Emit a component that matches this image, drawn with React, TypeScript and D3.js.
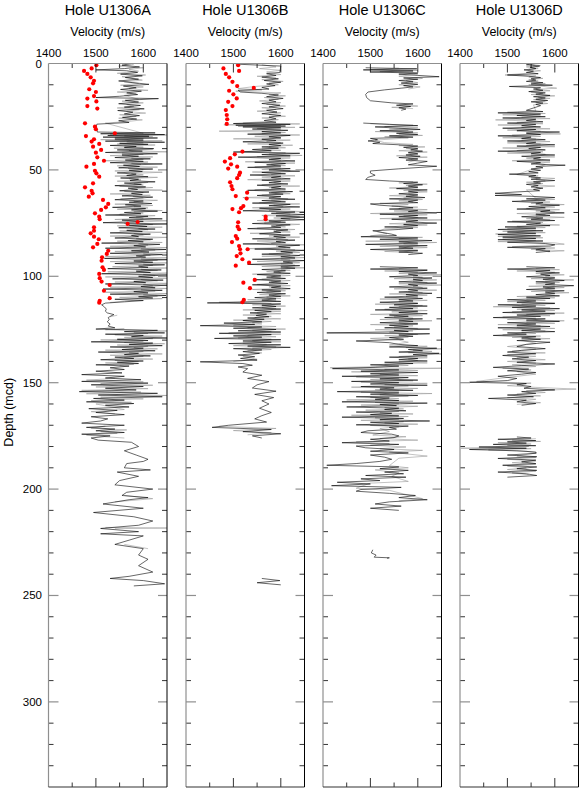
import * as d3 from "d3";

type Pt = [number, number]; // [depth (mcd), velocity (m/s)]

const holeNames = ["Hole U1306A", "Hole U1306B", "Hole U1306C", "Hole U1306D"];
const velocityLabels = [1400, 1500, 1600];
const velocityMinor = [1450, 1550];
const depthLabels = [0, 50, 100, 150, 200, 250, 300];

// Hole A
const aBlack: Pt[] = [
  [0, 1575], [0.8, 1555], [1.6, 1592], [2.4, 1560], [3, 1500], [3.4, 1565], [4.2, 1588], [5, 1552], [5.8, 1598], [6.6, 1562],
  [7.4, 1590], [8.2, 1548], [9, 1578], [9.8, 1612], [10.6, 1558], [11.4, 1585], [12.2, 1552], [13, 1596], [13.8, 1565], [14.6, 1588],
  [15.4, 1550], [16, 1500], [16.5, 1632], [17.3, 1562], [18.1, 1590], [18.9, 1548], [19.7, 1594], [20.5, 1560], [21.3, 1602], [22.1, 1546],
  [22.9, 1578], [23.7, 1560], [24.5, 1592], [25.3, 1556], [26.1, 1586], [26.9, 1548], [27.7, 1570], [28.5, 1502], [29.5, 1501], [31, 1502],
  [32.2, 1503], [32.6, 1625], [33, 1510], [33.4, 1645], [33.8, 1525], [34.2, 1612], [34.6, 1515], [35, 1630], [35.5, 1540], [36, 1600],
  [36.5, 1520], [37, 1645], [37.5, 1550], [38, 1610], [38.5, 1530], [39, 1585], [39.5, 1560], [40, 1622], [40.6, 1545], [41.2, 1598],
  [41.8, 1520], [42.4, 1630], [43, 1555], [43.6, 1590], [44.2, 1540], [44.8, 1615], [45.4, 1562], [46, 1600], [46.6, 1530], [47.2, 1640],
  [47.8, 1558], [48.4, 1592], [49, 1548], [49.6, 1620], [50.2, 1570], [50.8, 1598], [51.4, 1545], [52, 1585], [52.6, 1565], [53.2, 1610],
  [53.8, 1552], [54.4, 1590], [55, 1572], [55.6, 1625], [56.2, 1560], [56.8, 1596], [57.4, 1540], [58, 1605], [58.6, 1568], [59.2, 1588],
  [59.8, 1550], [60.4, 1612], [61, 1575], [61.6, 1598], [62.2, 1555], [62.8, 1620], [63.4, 1580], [64, 1540], [64.6, 1600], [65.2, 1570],
  [65.8, 1618], [66.4, 1562], [67, 1595], [67.6, 1535], [68.2, 1605], [68.8, 1575], [69.4, 1630], [70, 1560], [70.6, 1595], [71.2, 1520],
  [71.8, 1610], [72.4, 1570], [73, 1640], [73.6, 1555], [74.2, 1600], [74.8, 1515], [75.4, 1650], [76, 1570], [76.6, 1608], [77.2, 1548],
  [77.8, 1625], [78.4, 1565], [79, 1598], [79.6, 1530], [80.2, 1615], [80.8, 1575], [81.4, 1590], [82, 1540], [82.6, 1620], [83.2, 1568],
  [83.8, 1600], [84.4, 1512], [85, 1635], [85.6, 1580], [86.2, 1605], [86.8, 1520], [87.4, 1648], [88, 1575], [88.6, 1612], [89.2, 1530],
  [89.8, 1640], [90.4, 1585], [91, 1605], [91.6, 1518], [92.2, 1650], [92.8, 1580], [93.4, 1620], [94, 1540], [94.6, 1645], [95.2, 1590],
  [95.8, 1610], [96.4, 1525], [97, 1638], [97.6, 1585], [98.2, 1615], [98.8, 1512], [99.4, 1650], [100, 1590], [100.6, 1620], [101.2, 1535],
  [101.8, 1642], [102.4, 1580], [103, 1605], [103.6, 1520], [104.2, 1650], [104.8, 1595], [105.4, 1625], [106, 1515], [106.6, 1640], [107.2, 1580],
  [107.8, 1610], [108.4, 1530], [109, 1648], [109.6, 1590], [110.2, 1620], [110.8, 1540], [111.4, 1600], [112, 1560], [112.6, 1520], [113.4, 1512],
  [114.4, 1518], [115.4, 1522], [116.4, 1520], [117.2, 1524], [118, 1538], [118.6, 1532], [119.4, 1526], [120.4, 1528], [121.4, 1524], [122.4, 1530],
  [123.4, 1526], [124.2, 1540], [124.8, 1500], [125.4, 1630], [126, 1560], [126.6, 1645], [127.2, 1520], [127.8, 1600], [128.4, 1575], [129, 1650],
  [129.6, 1545], [130.2, 1610], [130.8, 1490], [131.4, 1620], [132, 1570], [132.6, 1640], [133.2, 1530], [133.8, 1600], [134.4, 1555], [135, 1625],
  [135.6, 1505], [136.2, 1590], [136.8, 1560], [137.4, 1615], [138, 1540], [138.6, 1580], [139.2, 1510], [139.8, 1600], [140.4, 1545], [141, 1590],
  [141.6, 1500], [142.2, 1570], [143, 1530], [143.8, 1560], [144.6, 1500], [145.4, 1555], [146.2, 1470], [147, 1560], [147.8, 1520], [148.6, 1595],
  [149.4, 1470], [150.2, 1610], [151, 1490], [151.8, 1600], [152.6, 1520], [153.4, 1585], [154.2, 1465], [155, 1630], [155.8, 1505], [156.6, 1640],
  [157.4, 1495], [158.2, 1560], [159, 1480], [159.8, 1580], [160.6, 1520], [161.4, 1570], [162.2, 1485], [163, 1545], [164, 1500], [165, 1560],
  [166, 1490], [167, 1525], [168, 1510], [169, 1470], [170, 1560], [171, 1480], [171.8, 1540], [172.6, 1500], [173.4, 1560], [174.2, 1470],
  [175, 1530], [176, 1490], [177, 1505], [178, 1575], [180, 1590], [182, 1560], [184, 1585], [186, 1610], [187, 1600], [188, 1565],
  [190, 1560], [191, 1615], [192, 1545], [194, 1590], [196, 1550], [198, 1540], [200, 1620], [201.5, 1565], [203, 1555], [204, 1610],
  [205, 1570], [207, 1515], [209, 1600], [211, 1495], [213, 1580], [215, 1620], [217, 1590], [218.5, 1510], [220, 1590], [221, 1510],
  [222, 1600], [224, 1570], [226, 1540], [228, 1600], [231, 1590], [233, 1610], [236, 1590], [239, 1620], [241, 1570], [242, 1530],
  [243, 1600], [244.5, 1645], [245.5, 1580],
];

const aGray: Pt[] = [
  [0.4, 1580], [1.2, 1548], [2, 1600], [2.8, 1570], [3.6, 1590], [4.6, 1545], [5.4, 1605], [6.2, 1555], [7, 1580], [7.8, 1598],
  [8.6, 1560], [9.4, 1590], [10.2, 1552], [11, 1600], [11.8, 1570], [12.6, 1610], [13.4, 1545], [14.2, 1585], [15, 1560], [16.8, 1590],
  [17.7, 1555], [18.5, 1600], [19.3, 1565], [20.1, 1580], [20.9, 1545], [21.7, 1592], [22.5, 1565], [23.3, 1605], [24.1, 1550], [24.9, 1585],
  [25.7, 1548], [26.5, 1598], [27.3, 1565], [28, 1520], [32.8, 1600], [33.2, 1530], [33.6, 1650], [34, 1560], [34.4, 1620], [34.8, 1540],
  [35.3, 1600], [35.8, 1510], [36.3, 1640], [36.8, 1565], [37.3, 1600], [37.8, 1545], [38.3, 1625], [38.8, 1560], [39.3, 1600], [39.8, 1538],
  [40.3, 1620], [40.9, 1570], [41.5, 1650], [42.1, 1555], [42.7, 1600], [43.3, 1530], [43.9, 1620], [44.5, 1575], [45.1, 1600], [45.7, 1520],
  [46.3, 1610], [46.9, 1575], [47.5, 1595], [48.1, 1545], [48.7, 1630], [49.3, 1568], [49.9, 1600], [50.5, 1540], [51.1, 1640], [51.7, 1575],
  [52.3, 1600], [52.9, 1540], [53.5, 1630], [54.1, 1570], [54.7, 1595], [55.3, 1545], [55.9, 1610], [56.5, 1580], [57.1, 1600], [57.7, 1550],
  [58.3, 1620], [58.9, 1575], [59.5, 1640], [60.1, 1560], [60.7, 1600], [61.3, 1530], [61.9, 1615], [62.5, 1578], [63.1, 1600], [63.7, 1552],
  [64.3, 1630], [64.9, 1580], [65.5, 1600], [66.1, 1540], [66.7, 1620], [67.3, 1580], [67.9, 1610], [68.5, 1545], [69.1, 1640], [69.7, 1580],
  [70.3, 1600], [70.9, 1550], [71.5, 1625], [72.1, 1585], [72.7, 1600], [73.3, 1540], [73.9, 1650], [74.5, 1590], [75.1, 1560], [75.7, 1620],
  [76.3, 1545], [76.9, 1640], [77.5, 1590], [78.1, 1610], [78.7, 1550], [79.3, 1640], [79.9, 1580], [80.5, 1600], [81.1, 1530], [81.7, 1650],
  [82.3, 1585], [82.9, 1615], [83.5, 1545], [84.1, 1640], [84.7, 1590], [85.3, 1610], [85.9, 1530], [86.5, 1650], [87.1, 1595], [87.7, 1625],
  [88.3, 1540], [88.9, 1650], [89.5, 1600], [90.1, 1615], [90.7, 1520], [91.3, 1650], [91.9, 1595], [92.5, 1630], [93.1, 1530], [93.7, 1650],
  [94.3, 1600], [94.9, 1620], [95.5, 1535], [96.1, 1650], [96.7, 1595], [97.3, 1630], [97.9, 1525], [98.5, 1650], [99.1, 1600], [99.7, 1625],
  [100.3, 1520], [100.9, 1650], [101.5, 1595], [102.1, 1630], [102.7, 1540], [103.3, 1650], [103.9, 1600], [104.5, 1620], [105.1, 1530], [105.7, 1650],
  [106.3, 1595], [106.9, 1625], [107.5, 1520], [108.1, 1650], [108.7, 1600], [109.3, 1630], [109.9, 1550], [110.5, 1640], [111.1, 1590], [111.7, 1560],
  [112.3, 1530], [118.3, 1545], [119, 1530], [124.5, 1560], [125.1, 1520], [125.7, 1650], [126.3, 1580], [126.9, 1610], [127.5, 1540], [128.1, 1640],
  [128.7, 1560], [129.3, 1620], [129.9, 1510], [130.5, 1600], [131.1, 1560], [131.7, 1645], [132.3, 1545], [132.9, 1610], [133.5, 1580], [134.1, 1630],
  [134.7, 1520], [135.3, 1600], [135.9, 1570], [136.5, 1640], [137.1, 1530], [137.7, 1600], [138.3, 1560], [138.9, 1620], [139.5, 1540], [140.1, 1590],
  [140.7, 1520], [141.3, 1580], [141.9, 1550], [148, 1540], [148.8, 1480], [149.6, 1600], [150.4, 1510], [151.2, 1620], [152, 1500], [152.8, 1610],
  [153.6, 1470], [154.4, 1595], [155.2, 1480], [156, 1650], [156.8, 1510], [157.6, 1600], [158.4, 1490], [159.2, 1575], [160, 1500], [162.6, 1560],
  [163.6, 1490], [164.6, 1540], [170.4, 1520], [171.4, 1490], [172.2, 1565], [173, 1510], [173.8, 1545], [174.6, 1480], [175.4, 1520], [176, 1560],
  [203, 1560], [204.5, 1620], [206, 1540], [218, 1520], [218.3, 1650], [218.6, 1540], [226, 1560], [228, 1610],
];

const aDots: Pt[] = [
  [0.8, 1501], [2.3, 1491], [3.5, 1475], [4.9, 1482], [6.5, 1489], [8.1, 1496], [9.3, 1494], [12.1, 1486], [13.4, 1500], [15.3, 1496],
  [16.5, 1482], [17.8, 1501], [20, 1482], [21.2, 1503], [28.1, 1477], [29.7, 1498], [30.9, 1500], [32.8, 1540], [34.1, 1479], [35.6, 1496],
  [36.7, 1491], [37.8, 1507], [39.1, 1494], [40.6, 1511], [41.9, 1500], [44.1, 1503], [45.7, 1517], [47.2, 1496], [48.5, 1480], [50.4, 1498],
  [51.6, 1501], [53.2, 1507], [56.3, 1494], [58.2, 1477], [59.8, 1491], [61, 1493], [62.6, 1485], [64.1, 1515], [66, 1526], [67.6, 1521],
  [68.8, 1511], [70.4, 1498], [72, 1507], [73.2, 1508], [74.5, 1588], [75.4, 1567], [77, 1496], [78.6, 1496], [79.8, 1489], [81.4, 1496],
  [82.6, 1506], [84.8, 1503], [86.4, 1494], [88, 1526], [89.5, 1523], [91.1, 1513], [92.7, 1512], [95.8, 1514], [97, 1517], [98.9, 1507],
  [100.9, 1508], [102.5, 1512], [104.1, 1529], [106.8, 1517], [110.3, 1529], [111.5, 1508], [112.4, 1507],
];

// Hole B
const bBlack: Pt[] = [
  [0.3, 1505], [1.2, 1600], [4.2, 1598], [4.8, 1570], [5.6, 1590], [6.4, 1560], [7.2, 1595], [8, 1565], [8.8, 1600], [9.6, 1570],
  [10.4, 1588], [11.2, 1560], [12, 1575], [12.6, 1510], [13.4, 1515], [14, 1560], [14.8, 1595], [15.6, 1570], [16.4, 1605], [17.2, 1575],
  [18, 1590], [18.8, 1560], [19.6, 1598], [20.4, 1575], [21.2, 1605], [22, 1570], [22.8, 1592], [23.6, 1560], [24.4, 1600], [25.2, 1575],
  [26, 1590], [26.8, 1565], [27.6, 1590], [28.2, 1500], [28.6, 1620], [29, 1505], [29.4, 1610], [29.8, 1520], [30.2, 1600], [30.8, 1540],
  [31.4, 1615], [32, 1560], [32.6, 1600], [33.2, 1530], [33.8, 1620], [34.4, 1575], [35, 1600], [35.6, 1560], [36.2, 1590], [36.8, 1520],
  [37.4, 1605], [38, 1575], [38.6, 1600], [39.2, 1560], [39.8, 1595], [40.4, 1540], [41, 1580], [41.6, 1500], [42.2, 1640], [42.8, 1560],
  [43.4, 1620], [44, 1510], [44.6, 1600], [45.2, 1575], [45.8, 1630], [46.4, 1545], [47, 1610], [47.6, 1570], [48.2, 1600], [48.8, 1530],
  [49.4, 1620], [50, 1575], [50.6, 1640], [51.2, 1560], [51.8, 1610], [52.4, 1535], [53, 1600], [53.6, 1580], [54.2, 1620], [54.8, 1560],
  [55.4, 1600], [56, 1575], [56.6, 1615], [57.2, 1550], [57.8, 1600], [58.4, 1580], [59, 1610], [59.6, 1530], [60.2, 1625], [60.8, 1575],
  [61.4, 1605], [62, 1550], [62.6, 1600], [63.2, 1575], [63.8, 1630], [64.4, 1560], [65, 1610], [65.6, 1540], [66.2, 1620], [66.8, 1575],
  [67.4, 1640], [68, 1555], [68.6, 1600], [69.2, 1520], [69.8, 1630], [70.4, 1580], [71, 1650], [71.6, 1590], [72.2, 1650], [72.8, 1600],
  [73.4, 1650], [74, 1575], [74.6, 1610], [75.2, 1540], [75.8, 1620], [76.4, 1580], [77, 1600], [77.6, 1530], [78.2, 1615], [78.8, 1585],
  [79.4, 1600], [80, 1555], [80.6, 1620], [81.2, 1585], [81.8, 1610], [82.4, 1540], [83, 1630], [83.6, 1590], [84.2, 1610], [84.8, 1520],
  [85.4, 1640], [86, 1595], [86.6, 1620], [87.2, 1545], [87.8, 1650], [88.4, 1600], [89, 1625], [89.6, 1560], [90.2, 1640], [90.8, 1600],
  [91.4, 1630], [92, 1540], [92.6, 1650], [93.2, 1605], [93.8, 1625], [94.4, 1530], [95, 1640], [95.6, 1600], [96.2, 1630], [96.8, 1560],
  [97.4, 1610], [98, 1585], [98.6, 1620], [99.2, 1550], [99.8, 1600], [100.4, 1570], [101, 1610], [101.6, 1545], [102.2, 1600], [102.8, 1575],
  [103.4, 1615], [104, 1540], [104.6, 1600], [105.2, 1580], [105.8, 1620], [106.4, 1560], [107, 1600], [107.6, 1550], [108.2, 1610], [108.8, 1575],
  [109.4, 1600], [110, 1545], [110.6, 1590], [111.2, 1560], [111.8, 1600], [112.5, 1445], [113, 1600], [113.6, 1560], [114.2, 1590], [114.8, 1540],
  [115.4, 1600], [116, 1545], [116.6, 1580], [117.2, 1535], [117.8, 1570], [118.4, 1548], [119, 1575], [119.6, 1530], [120.2, 1565], [120.8, 1520],
  [121.4, 1560], [122, 1480], [122.6, 1545], [123.2, 1430], [123.8, 1560], [124.4, 1500], [125, 1590], [125.6, 1510], [126.2, 1600], [126.8, 1470],
  [127.4, 1580], [128, 1500], [128.6, 1560], [129.2, 1460], [129.8, 1600], [130.4, 1520], [131, 1580], [131.6, 1490], [132.2, 1600], [132.8, 1530],
  [133.4, 1620], [134, 1500], [134.6, 1560], [135.4, 1520], [136.2, 1555], [137, 1510], [137.8, 1545], [138.6, 1515], [139.4, 1550], [140.2, 1430],
  [141, 1520], [141.8, 1540], [142.6, 1510], [143.4, 1530], [145, 1520], [146.5, 1560], [148, 1530], [149.5, 1575], [151, 1550], [152.5, 1540],
  [154, 1590], [155.5, 1545], [157, 1585], [158.5, 1560], [160, 1575], [162, 1555], [164, 1580], [165.5, 1560], [167, 1545], [168.5, 1570],
  [170, 1490], [171, 1455], [172, 1580], [173, 1520], [174, 1600], [175, 1540], [176, 1560],
  [242, 1560], [243, 1598], [244, 1550], [245, 1600],
];

const bGray: Pt[] = [
  [0.6, 1560], [1.6, 1590], [2.4, 1555], [3.2, 1600], [4, 1570], [5.2, 1600], [6, 1550], [6.8, 1590], [7.6, 1560], [8.4, 1605],
  [9.2, 1575], [10, 1595], [10.8, 1545], [11.8, 1510], [12.4, 1560], [13, 1505], [13.8, 1600], [14.6, 1575], [15.2, 1610], [16, 1565],
  [16.8, 1595], [17.6, 1555], [18.4, 1600], [19.2, 1570], [20, 1610], [20.8, 1560], [21.6, 1590], [22.4, 1550], [23.2, 1600], [24, 1575],
  [24.8, 1610], [25.6, 1560], [26.4, 1595], [27.2, 1570], [28, 1520], [28.4, 1640], [28.8, 1480], [29.2, 1600], [29.6, 1510], [30, 1630],
  [30.6, 1550], [31.2, 1600], [31.8, 1470], [32.4, 1610], [33, 1560], [33.6, 1640], [34.2, 1545], [34.8, 1600], [35.4, 1500], [36, 1620],
  [36.6, 1570], [37.2, 1600], [37.8, 1530], [38.4, 1625], [39, 1575], [39.6, 1610], [40.2, 1560], [40.8, 1600], [41.4, 1520], [42, 1610],
  [42.6, 1575], [43.2, 1645], [43.8, 1550], [44.4, 1620], [45, 1580], [45.6, 1600], [46.2, 1525], [46.8, 1630], [47.4, 1580], [48, 1610],
  [48.6, 1545], [49.2, 1600], [49.8, 1560], [50.4, 1620], [51, 1540], [51.6, 1600], [52.2, 1580], [52.8, 1630], [53.4, 1560], [54, 1600],
  [54.6, 1530], [55.2, 1620], [55.8, 1585], [56.4, 1600], [57, 1560], [57.6, 1640], [58.2, 1575], [58.8, 1600], [59.4, 1545], [60, 1610],
  [60.6, 1580], [61.2, 1620], [61.8, 1560], [62.4, 1600], [63, 1520], [63.6, 1615], [64.2, 1580], [64.8, 1600], [65.4, 1555], [66, 1640],
  [66.6, 1585], [67.2, 1605], [67.8, 1540], [68.4, 1620], [69, 1575], [69.6, 1650], [70.2, 1590], [70.8, 1620], [71.4, 1560], [72, 1640],
  [72.6, 1585], [73.2, 1620], [73.8, 1550], [74.4, 1600], [75, 1565], [75.6, 1640], [76.2, 1590], [76.8, 1610], [77.4, 1550], [78, 1630],
  [78.6, 1590], [79.2, 1620], [79.8, 1535], [80.4, 1600], [81, 1575], [81.6, 1640], [82.2, 1590], [82.8, 1615], [83.4, 1550], [84, 1600],
  [84.6, 1580], [85.2, 1650], [85.8, 1590], [86.4, 1610], [87, 1530], [87.6, 1630], [88.2, 1590], [88.8, 1640], [89.4, 1575], [90, 1620],
  [90.6, 1560], [91.2, 1650], [91.8, 1600], [92.4, 1620], [93, 1550], [93.6, 1640], [94.2, 1600], [94.8, 1630], [95.4, 1560], [96, 1650],
  [96.6, 1600], [97.2, 1620], [97.8, 1570], [98.4, 1600], [99, 1540], [99.6, 1620], [100.2, 1580], [100.8, 1600], [101.4, 1560], [102, 1620],
  [102.6, 1580], [103.2, 1600], [103.8, 1550], [104.4, 1620], [105, 1575], [105.6, 1600], [106.2, 1540], [106.8, 1610], [107.4, 1570], [108, 1600],
  [108.6, 1555], [109.2, 1620], [109.8, 1570], [110.4, 1600], [111, 1530], [111.6, 1590], [112.2, 1470], [112.8, 1580], [113.4, 1540], [114, 1610],
  [114.6, 1560], [115.2, 1590], [115.8, 1520], [116.4, 1600], [117, 1550], [117.6, 1600], [118.2, 1520], [118.8, 1580], [119.4, 1545], [120, 1600],
  [120.6, 1500], [121.2, 1580], [121.8, 1540], [122.4, 1560], [123, 1500], [123.6, 1590], [124.2, 1530], [124.8, 1610], [125.4, 1540], [126, 1580],
  [126.6, 1490], [127.2, 1600], [127.8, 1530], [128.4, 1590], [129, 1510], [129.6, 1580], [130.2, 1540], [130.8, 1600], [131.4, 1520], [132, 1570],
  [132.6, 1500], [133.2, 1590], [133.8, 1540], [134.4, 1580], [135, 1530], [136, 1560], [137.6, 1520], [139, 1550], [140, 1500],
  [170.5, 1470], [171.5, 1590], [172.5, 1500], [173.5, 1580], [174.5, 1530],
];

const bDots: Pt[] = [
  [0.8, 1510], [2.3, 1479], [3.5, 1512], [4.9, 1484], [6.5, 1491], [8.6, 1498], [10.6, 1508], [11.5, 1543], [12.8, 1491], [14.5, 1500],
  [16.4, 1507], [18, 1489], [20, 1498], [21.9, 1484], [24.2, 1486], [26.2, 1487], [28.4, 1486], [41.4, 1519], [42.7, 1503], [44.5, 1493],
  [46.1, 1482], [47.4, 1495], [48.5, 1508], [49.4, 1489], [51.3, 1514], [52.4, 1512], [53.9, 1508], [55.8, 1493], [57.6, 1496], [59.1, 1498],
  [60.7, 1529], [62.3, 1505], [63.5, 1528], [67, 1521], [68, 1516], [68.4, 1498], [69.9, 1512], [72, 1568], [73.2, 1568], [74.6, 1510],
  [76.7, 1509], [77.9, 1512], [81.1, 1505], [82.3, 1508], [83.9, 1497], [85.8, 1512], [87.3, 1514], [87.3, 1530], [89.2, 1515], [90.5, 1507],
  [92, 1519], [93.6, 1533], [95, 1505], [101.7, 1545], [103, 1521], [105.6, 1535], [111.1, 1522], [112.2, 1519],
];

// Hole C
const cBlack: Pt[] = [
  [2, 1490], [2.5, 1598], [3, 1485], [3.5, 1590], [4, 1500], [4.5, 1600], [5, 1560], [5.6, 1600], [6.2, 1645], [6.8, 1570],
  [7.4, 1600], [8, 1560], [8.6, 1590], [9.2, 1565], [9.8, 1600], [10.4, 1570], [11, 1590], [11.6, 1565], [12.4, 1530], [13.4, 1495],
  [14.5, 1490], [16, 1492], [17.5, 1500], [18.5, 1545], [19, 1590], [19.6, 1555], [20.2, 1585], [20.8, 1560], [21.4, 1575], [22, 1565],
  [28, 1485], [28.6, 1540], [29.2, 1600], [29.8, 1510], [30.4, 1560], [31, 1605], [31.6, 1520], [32.2, 1590], [32.8, 1555], [33.4, 1600],
  [34, 1540], [34.6, 1590], [35.2, 1500], [35.8, 1515], [36.4, 1495], [37, 1520], [37.6, 1505], [38.2, 1560], [38.8, 1600], [39.4, 1570],
  [40, 1600], [40.6, 1585], [41.2, 1610], [41.8, 1580], [42.4, 1600], [43, 1575], [43.6, 1605], [44.2, 1560], [44.8, 1600], [45.4, 1575],
  [46, 1620], [46.8, 1600], [47.6, 1580], [48.3, 1640], [49.5, 1560], [50.5, 1500], [51.5, 1500], [52.5, 1510], [53.5, 1495], [54.5, 1490],
  [55.2, 1540], [55.8, 1600], [56.4, 1570], [57, 1610], [57.6, 1580], [58.2, 1600], [58.8, 1555], [59.4, 1620], [60, 1580], [60.6, 1600],
  [61.2, 1560], [61.8, 1600], [62.4, 1575], [63, 1615], [63.6, 1540], [64.2, 1600], [64.8, 1580], [65.4, 1600], [66, 1500], [66.6, 1520],
  [67.2, 1560], [67.8, 1590], [68.4, 1540], [69, 1600], [69.6, 1580], [70.2, 1640], [70.8, 1520], [71.4, 1600], [72, 1560], [72.6, 1620],
  [73.2, 1545], [73.8, 1600], [74.4, 1575], [75, 1640], [75.6, 1570], [76.2, 1600], [76.8, 1530], [77.4, 1590], [78, 1560], [78.6, 1505],
  [79.4, 1525], [80.2, 1545], [80.8, 1555], [81.4, 1480], [82, 1600], [82.6, 1520], [83.2, 1630], [83.8, 1560], [84.4, 1600], [85, 1490],
  [85.6, 1620], [86.2, 1560], [86.8, 1590], [87.4, 1500], [88, 1600], [88.6, 1560], [89.2, 1610], [89.8, 1580],
  [95.5, 1520], [96, 1600], [96.6, 1500], [97.2, 1620], [97.8, 1560], [98.4, 1640], [99, 1580], [99.6, 1600], [100.2, 1540], [100.8, 1630],
  [101.4, 1590], [102, 1610], [102.6, 1560], [103.2, 1640], [103.8, 1580], [104.4, 1600], [105, 1540], [105.6, 1620], [106.2, 1580], [106.8, 1600],
  [107.4, 1560], [108, 1630], [108.6, 1575], [109.2, 1600], [109.8, 1530], [110.4, 1610], [111, 1560], [111.6, 1590], [112.2, 1520], [112.8, 1600],
  [113.4, 1550], [114, 1620], [114.6, 1540], [115.2, 1590], [115.8, 1510], [116.4, 1600], [117, 1560], [117.6, 1620], [118.2, 1540], [118.8, 1580],
  [119.4, 1530], [120, 1610], [120.6, 1560], [121.2, 1590], [121.8, 1520], [122.4, 1600], [123, 1540], [123.6, 1580], [124.2, 1530], [124.8, 1625],
  [125.4, 1550], [126, 1580], [126.6, 1408], [127, 1625], [127.6, 1560], [128.2, 1590], [128.8, 1540], [129.6, 1570], [130.4, 1470], [131.2, 1540],
  [132, 1560], [132.6, 1600], [133.2, 1540], [133.8, 1640], [134.4, 1580], [135, 1610], [135.6, 1560], [136.2, 1645], [136.8, 1590], [137.4, 1620],
  [138, 1540], [138.6, 1600], [139.2, 1560], [139.8, 1620], [140.4, 1530], [141, 1590], [141.6, 1500], [142.2, 1560], [142.8, 1510], [143.4, 1420],
  [144, 1560], [144.6, 1480], [145.2, 1600], [145.8, 1500], [146.4, 1560], [147, 1440], [147.6, 1580], [148.2, 1520], [148.8, 1600], [149.4, 1460],
  [150, 1560], [150.6, 1500], [151.2, 1620], [151.8, 1480], [152.4, 1550], [153, 1520], [153.6, 1590], [154.2, 1430], [154.8, 1560], [155.4, 1500],
  [156, 1600], [156.6, 1470], [157.2, 1540], [157.8, 1510], [158.4, 1560], [159, 1440], [159.6, 1620], [160.2, 1520], [160.8, 1555], [161.4, 1450],
  [162, 1560], [162.6, 1530], [163.2, 1575], [163.8, 1470], [164.4, 1545], [165, 1500], [165.6, 1560], [166.2, 1440], [166.8, 1570], [167.4, 1520],
  [168, 1625], [168.6, 1500], [169.2, 1560], [169.8, 1470], [170.4, 1580], [171, 1540], [171.8, 1555], [172.6, 1495], [173.4, 1480], [174.2, 1545],
  [175, 1560], [175.8, 1550], [176.6, 1500], [177.4, 1540], [178.2, 1440], [179, 1560], [179.8, 1470], [180.6, 1490], [181.4, 1550], [182.2, 1500],
  [183, 1580], [184, 1500], [185, 1530], [186, 1545], [187, 1520], [188, 1470], [188.8, 1408], [189.6, 1560], [190.4, 1520], [191.2, 1580],
  [192, 1530], [192.8, 1570], [193.6, 1490], [194.4, 1575], [195.2, 1480], [196, 1520], [196.8, 1430], [197.6, 1500], [198.4, 1418], [199.2, 1565],
  [200.2, 1480], [201, 1470], [202, 1540], [203, 1595], [204, 1560], [205, 1620], [206, 1540], [207, 1510], [208, 1565], [209, 1500],
  [210, 1560],
  [228.5, 1505], [230, 1502], [231, 1512], [232, 1508], [232.3, 1540], [232.5, 1535],
];

const cGray: Pt[] = [
  [2.2, 1560], [2.8, 1500], [3.3, 1600], [3.8, 1520], [4.3, 1590], [5, 1600], [6, 1560], [7, 1610], [8, 1575], [9, 1600],
  [10, 1560], [11, 1605], [12, 1580],
  [19.3, 1560], [20, 1600], [20.6, 1545], [21.2, 1590],
  [28.3, 1500], [29, 1590], [29.6, 1530], [30.2, 1600], [30.8, 1540], [31.4, 1580], [32, 1510], [32.6, 1600], [33.2, 1560], [33.8, 1610],
  [34.4, 1530], [35, 1580], [36, 1510], [37.2, 1530], [38, 1590], [38.6, 1560], [39.2, 1615], [39.8, 1575], [40.4, 1600], [41, 1560],
  [41.6, 1620], [42.2, 1580], [42.8, 1600], [43.4, 1555], [44, 1620], [44.6, 1580], [45.2, 1600], [46.4, 1580],
  [55.5, 1590], [56.1, 1560], [56.7, 1620], [57.3, 1575], [57.9, 1600], [58.5, 1540], [59.1, 1600], [59.7, 1570], [60.3, 1620], [60.9, 1580],
  [61.5, 1600], [62.1, 1540], [62.7, 1600], [63.3, 1570], [63.9, 1610], [64.5, 1560], [65.1, 1590], [65.7, 1520], [66.3, 1580], [67, 1545],
  [67.5, 1600], [68.1, 1560], [68.7, 1620], [69.3, 1550], [69.9, 1600], [70.5, 1500], [71.1, 1620], [71.7, 1570], [72.3, 1600], [72.9, 1520],
  [73.5, 1650], [74.1, 1580], [74.7, 1600], [75.3, 1540], [75.9, 1620], [76.5, 1570], [77.1, 1600], [77.7, 1530], [79, 1515], [80, 1535],
  [81, 1500], [81.7, 1610], [82.3, 1560], [82.9, 1600], [83.5, 1490], [84.1, 1640], [84.7, 1570], [85.3, 1600], [85.9, 1520], [86.5, 1620],
  [87.1, 1560], [87.7, 1600], [88.3, 1530], [88.9, 1590],
  [96.3, 1560], [96.9, 1620], [97.5, 1530], [98.1, 1600], [98.7, 1560], [99.3, 1650], [99.9, 1590], [100.5, 1610], [101.1, 1550], [101.7, 1640],
  [102.3, 1590], [102.9, 1620], [103.5, 1560], [104.1, 1650], [104.7, 1590], [105.3, 1610], [105.9, 1550], [106.5, 1640], [107.1, 1580], [107.7, 1610],
  [108.3, 1540], [108.9, 1620], [109.5, 1575], [110.1, 1600], [110.7, 1520], [111.3, 1620], [111.9, 1560], [112.5, 1600], [113.1, 1510], [113.7, 1610],
  [114.3, 1560], [114.9, 1600], [115.5, 1530], [116.1, 1620], [116.7, 1545], [117.3, 1600], [117.9, 1500], [118.5, 1610], [119.1, 1550], [119.7, 1590],
  [120.3, 1520], [120.9, 1630], [121.5, 1560], [122.1, 1600], [122.7, 1500], [123.3, 1590], [123.9, 1550], [124.5, 1600], [125.1, 1510], [125.7, 1590],
  [126.3, 1540], [127.3, 1600], [127.9, 1530], [128.5, 1580], [129.2, 1500], [130, 1560], [131, 1580], [132.3, 1540], [132.9, 1620], [133.5, 1575],
  [134.1, 1650], [134.7, 1590], [135.3, 1630], [135.9, 1580], [136.5, 1650], [137.1, 1600], [137.7, 1560], [138.3, 1620], [138.9, 1580], [139.5, 1600],
  [140.1, 1560], [140.7, 1620], [141.3, 1530], [141.9, 1580], [142.5, 1500], [143, 1415], [143.2, 1650], [143.7, 1530], [144.3, 1600], [144.9, 1460],
  [145.5, 1560], [146.1, 1520], [146.7, 1600], [147.3, 1470], [147.9, 1560], [148.5, 1500], [149.1, 1590], [149.7, 1480], [150.3, 1620], [150.9, 1530],
  [151.5, 1580], [152.1, 1460], [152.7, 1600], [153.3, 1510], [153.9, 1560], [154.5, 1480], [155.1, 1630], [155.7, 1520], [156.3, 1580], [156.9, 1500],
  [157.5, 1560], [158.1, 1450], [158.7, 1590], [159.3, 1510], [159.9, 1560], [160.5, 1480], [161.1, 1600], [161.7, 1530], [162.3, 1570], [162.9, 1490],
  [163.5, 1560], [164.1, 1520], [164.7, 1590], [165.3, 1460], [165.9, 1580], [166.5, 1510], [167.1, 1560], [167.7, 1480], [168.3, 1570], [168.9, 1530],
  [169.5, 1600], [170.1, 1500], [170.7, 1560], [171.5, 1520], [173, 1540], [174.6, 1505], [175.4, 1575], [176.2, 1520], [177, 1600], [177.8, 1470],
  [178.6, 1540], [179.4, 1500], [180.2, 1575], [181, 1520], [181.8, 1610], [182.6, 1540], [184.5, 1620], [185.5, 1560], [189, 1540], [190, 1580],
  [191, 1510], [192.4, 1560], [194, 1545], [196.4, 1580], [197.2, 1500], [199.6, 1470], [200.6, 1540], [204.5, 1610], [205.5, 1560],
];

// Hole D
const dBlack: Pt[] = [
  [0, 1560], [0.6, 1540], [1.2, 1568], [1.8, 1548], [2.4, 1560], [3, 1535], [3.6, 1555], [4.2, 1540], [4.8, 1565], [5.4, 1500],
  [6, 1545], [6.6, 1570], [7.2, 1550], [7.8, 1560], [8.4, 1540], [9, 1575], [9.6, 1550], [10.2, 1595], [10.8, 1504], [11.4, 1570],
  [12, 1555], [12.6, 1575], [13.2, 1545], [13.8, 1580], [14.4, 1560], [15, 1590], [15.6, 1555], [16.2, 1580], [16.8, 1560], [17.4, 1585],
  [18, 1550], [18.6, 1575], [19.2, 1560], [19.8, 1570],
  [22, 1540], [22.6, 1575], [23.2, 1480], [23.8, 1570], [24.4, 1520], [25, 1580], [25.6, 1490], [26.2, 1560], [26.8, 1540], [27.4, 1575],
  [28, 1500], [28.6, 1560], [29.2, 1530], [29.8, 1570], [30.4, 1490], [31, 1560], [31.6, 1520], [32.2, 1610], [32.8, 1540], [33.4, 1570],
  [34, 1480], [34.6, 1550], [35.2, 1530], [35.8, 1580], [36.4, 1500], [37, 1560], [37.6, 1540], [38.2, 1600], [38.8, 1520], [39.4, 1570],
  [40, 1545], [40.6, 1580], [41.2, 1480], [41.8, 1570], [42.4, 1550], [43, 1600], [43.6, 1530], [44.2, 1570], [44.8, 1555], [45.4, 1590],
  [46, 1520], [46.6, 1570], [47.2, 1550], [47.8, 1622], [48.4, 1560], [49, 1575], [49.6, 1550], [50.2, 1570], [50.8, 1545], [51.4, 1565],
  [52, 1504], [52.6, 1560], [53.2, 1545], [53.8, 1570], [54.4, 1550], [55, 1600], [55.6, 1555], [56.2, 1570], [56.8, 1540], [57.4, 1565],
  [58, 1550], [58.6, 1575], [59.2, 1555], [59.8, 1568], [60.4, 1516], [61, 1474], [61.6, 1530], [62, 1474], [62.4, 1550], [63, 1600],
  [63.6, 1540], [64.2, 1580], [64.8, 1510], [65.4, 1575], [66, 1560], [66.6, 1610], [67.2, 1545], [67.8, 1580], [68.4, 1520], [69, 1590],
  [69.6, 1570], [70.2, 1620], [70.8, 1560], [71.4, 1590], [72, 1530], [72.6, 1575], [73.2, 1550], [73.8, 1600], [74.4, 1500], [75, 1570],
  [75.6, 1540], [76.2, 1590], [76.8, 1495], [77.4, 1560], [78, 1480], [78.6, 1575], [79.2, 1500], [79.8, 1560], [80.4, 1480], [81, 1570],
  [81.6, 1490], [82.2, 1560], [82.8, 1480], [83.4, 1575], [84, 1500], [84.6, 1580], [85.2, 1600], [85.8, 1590], [86.4, 1500], [87, 1580],
  [87.6, 1560], [88.2, 1590], [88.8, 1560],
  [95.5, 1540], [96, 1600], [96.6, 1500], [97.2, 1590], [97.8, 1560], [98.4, 1610], [99, 1570], [99.6, 1590], [100.2, 1540], [100.8, 1600],
  [101.4, 1575], [102, 1620], [102.6, 1560], [103.2, 1600], [103.8, 1580], [104.4, 1640], [105, 1575], [105.6, 1600], [106.2, 1540], [106.8, 1620],
  [107.4, 1580], [108, 1600], [108.6, 1560], [109.2, 1610], [109.8, 1540], [110.4, 1590], [111, 1500], [111.6, 1560], [112.2, 1520], [112.8, 1600],
  [113.4, 1480], [114, 1560], [114.6, 1510], [115.2, 1610], [115.8, 1530], [116.4, 1580], [117, 1490], [117.6, 1600], [118.2, 1520], [118.8, 1570],
  [119.4, 1470], [120, 1580], [120.6, 1540], [121.2, 1610], [121.8, 1500], [122.4, 1560], [123, 1520], [123.6, 1590], [124.2, 1480], [124.8, 1570],
  [125.4, 1530], [126, 1600], [126.6, 1500], [127.2, 1540], [127.8, 1470], [128.4, 1560], [129, 1530], [129.6, 1570], [130.2, 1520], [131, 1590],
  [132, 1540], [133, 1520], [134, 1580], [134.8, 1530], [135.6, 1500], [136.4, 1560], [137.2, 1490], [138, 1545], [138.8, 1510], [139.6, 1560],
  [140.4, 1520], [141.2, 1600], [142, 1530], [142.8, 1470], [143.6, 1545], [144.4, 1500], [145.2, 1560], [146, 1530], [147, 1480], [148, 1520],
  [149, 1500], [149.8, 1420], [150.4, 1540], [151, 1520], [151.8, 1550], [152.6, 1535], [153.4, 1600], [154.2, 1530], [155, 1560], [155.8, 1500],
  [156.6, 1555], [157.4, 1460], [158.2, 1540], [159, 1520], [159.8, 1560], [160.6, 1530],
  [175.5, 1520], [176, 1550], [176.6, 1480], [177.2, 1560], [177.8, 1500], [178.4, 1540], [179, 1470], [179.6, 1560], [180.2, 1440], [180.8, 1540],
  [181.4, 1420], [182, 1520], [182.6, 1560], [183.2, 1560], [184, 1500], [184.8, 1562], [185.6, 1480], [186.4, 1560], [187.2, 1530], [188, 1560],
  [188.8, 1490], [189.6, 1562], [190.4, 1520], [191.2, 1562], [192, 1480], [192.8, 1540], [193.6, 1562], [194.4, 1500],
];

const dGray: Pt[] = [
  [0.4, 1550], [1, 1570], [1.6, 1540], [2.2, 1565], [2.8, 1545], [3.4, 1570], [4, 1550], [4.6, 1540], [5.4, 1495], [5.8, 1560],
  [6.4, 1545], [7, 1575], [7.6, 1545], [8.2, 1565], [8.8, 1550], [9.4, 1580], [10, 1545], [10.6, 1570], [11.6, 1604], [12.2, 1560],
  [12.8, 1590], [13.4, 1550], [14, 1575], [14.6, 1550], [15.2, 1600], [15.8, 1565], [16.4, 1590], [17, 1555], [17.6, 1580], [18.2, 1560],
  [18.8, 1585], [19.4, 1555],
  [22.3, 1560], [22.9, 1500], [23.5, 1580], [24.1, 1490], [24.7, 1570], [25.3, 1530], [25.9, 1590], [26.5, 1475], [27.1, 1560], [27.7, 1520],
  [28.3, 1575], [28.9, 1480], [29.5, 1560], [30.1, 1530], [30.7, 1590], [31.3, 1500], [31.9, 1570], [32.5, 1540], [33.1, 1612], [33.7, 1510],
  [34.3, 1570], [34.9, 1490], [35.5, 1560], [36.1, 1530], [36.7, 1590], [37.3, 1500], [37.9, 1570], [38.5, 1540], [39.1, 1600], [39.7, 1490],
  [40.3, 1560], [40.9, 1520], [41.5, 1575], [42.1, 1500], [42.7, 1580], [43.3, 1550], [43.9, 1600], [44.5, 1540], [45.1, 1570], [45.7, 1510],
  [46.3, 1590], [46.9, 1560], [47.5, 1580],
  [52.2, 1520], [52.8, 1565], [53.4, 1550], [54, 1600], [54.6, 1560], [55.2, 1580], [55.8, 1540], [56.4, 1575], [57, 1555], [57.6, 1600],
  [58.2, 1560], [58.8, 1570], [59.4, 1540],
  [63.3, 1560], [63.9, 1600], [64.5, 1530], [65.1, 1590], [65.7, 1550], [66.3, 1620], [66.9, 1570], [67.5, 1600], [68.1, 1540], [68.7, 1610],
  [69.3, 1560], [69.9, 1600], [70.5, 1520], [71.1, 1580], [71.7, 1560], [72.3, 1620], [72.9, 1540], [73.5, 1590], [74.1, 1510], [74.7, 1575],
  [75.3, 1560], [75.9, 1610], [76.5, 1520], [77.1, 1580], [77.7, 1500], [78.3, 1560], [78.9, 1490], [79.5, 1580], [80.1, 1475], [80.7, 1560],
  [81.3, 1480], [81.9, 1575], [82.5, 1490], [83.1, 1560], [83.7, 1480], [84.3, 1600], [84.9, 1620], [85.5, 1560], [86.1, 1510], [86.7, 1600],
  [87.3, 1550], [88, 1620], [88.5, 1585],
  [96.3, 1560], [96.9, 1610], [97.5, 1520], [98.1, 1600], [98.7, 1560], [99.3, 1620], [99.9, 1580], [100.5, 1600], [101.1, 1550], [101.7, 1640],
  [102.3, 1580], [102.9, 1610], [103.5, 1560], [104.1, 1600], [104.7, 1545], [105.3, 1620], [105.9, 1580], [106.5, 1600], [107.1, 1550], [107.7, 1630],
  [108.3, 1580], [108.9, 1600], [109.5, 1520], [110.1, 1600], [110.7, 1540], [111.3, 1580], [111.9, 1500], [112.5, 1600], [113.1, 1530], [113.7, 1580],
  [114.3, 1470], [114.9, 1590], [115.5, 1520], [116.1, 1600], [116.7, 1510], [117.3, 1620], [117.9, 1540], [118.5, 1590], [119.1, 1490], [119.7, 1560],
  [120.3, 1500], [120.9, 1620], [121.5, 1540], [122.1, 1600], [122.7, 1480], [123.3, 1570], [123.9, 1520], [124.5, 1600], [125.1, 1490], [125.7, 1580],
  [126.3, 1530], [126.9, 1560], [127.5, 1490], [128.1, 1570], [128.7, 1510], [129.3, 1590], [130, 1530], [131.5, 1560], [133, 1500], [134.2, 1560],
  [135.2, 1510], [136, 1580], [136.8, 1500], [137.6, 1560], [138.4, 1520], [139.2, 1580], [140, 1500], [140.8, 1560], [141.6, 1510], [142.4, 1560],
  [143.2, 1490], [144, 1550], [144.8, 1520], [146, 1560], [147.5, 1500], [149.4, 1435], [150.2, 1550], [151.4, 1500], [152.2, 1560], [153, 1645],
  [153.8, 1540], [154.6, 1580], [155.4, 1520], [156.2, 1570], [157, 1500], [157.8, 1560], [158.6, 1530], [159.4, 1570], [160.2, 1520],
  [176.3, 1560], [177, 1510], [177.6, 1570], [178.2, 1480], [178.8, 1550], [179.4, 1500], [180, 1545], [180.8, 1402], [181, 1550], [181.6, 1460],
  [182.2, 1540], [183, 1562], [184.4, 1520], [185.2, 1560], [186, 1500], [186.8, 1560], [187.6, 1510], [188.4, 1560], [189.2, 1500], [190, 1540],
  [190.8, 1500], [191.6, 1560], [192.4, 1510], [193.2, 1545],
];

const panels = [
  { title: holeNames[0], black: aBlack, gray: aGray, dots: aDots },
  { title: holeNames[1], black: bBlack, gray: bGray, dots: bDots },
  { title: holeNames[2], black: cBlack, gray: cGray, dots: [] as Pt[] },
  { title: holeNames[3], black: dBlack, gray: dGray, dots: [] as Pt[] },
];

const WIDTH = 579;
const HEIGHT = 788;
const PANEL_X = [48.5, 186, 323, 460];
const PANEL_W = 118.5;
const TOP = 63.5;
const BOTTOM = 787;
const FONT = "'Liberation Sans', Arial, Helvetica, sans-serif";
const AXIS_GRAY = "#8f8f8f";

// break a log into pieces where there is a gap in depth
function pieces(pts: Pt[], maxGap = 5): Pt[][] {
  const out: Pt[][] = [];
  let cur: Pt[] = [];
  pts.forEach((p, i) => {
    if (i > 0 && p[0] - pts[i - 1][0] > maxGap) {
      out.push(cur);
      cur = [];
    }
    cur.push(p);
  });
  if (cur.length) out.push(cur);
  return out;
}

function Panel({ idx, y }: { idx: number; y: d3.ScaleLinear<number, number> }) {
  const p = panels[idx];
  const x0 = PANEL_X[idx];
  const x = d3.scaleLinear().domain([1400, 1650]).range([x0, x0 + PANEL_W]);
  const line = d3
    .line<Pt>()
    .x((d) => x(d[1]))
    .y((d) => y(d[0]));
  const clipId = `clip-${idx}`;
  const center = x0 + PANEL_W / 2;
  const minorDepths = d3.range(10, 340, 10).filter((d) => d % 50 !== 0);

  return (
    <g>
      <defs>
        <clipPath id={clipId}>
          <rect x={x0} y={TOP} width={PANEL_W} height={BOTTOM - TOP} />
        </clipPath>
      </defs>
      <text x={center} y={15} textAnchor="middle" fontSize={14.5} fontFamily={FONT}>
        {p.title}
      </text>
      <text x={center} y={36} textAnchor="middle" fontSize={12.5} fontFamily={FONT}>
        Velocity (m/s)
      </text>
      {velocityLabels.map((v) => (
        <text key={v} x={x(v)} y={57} textAnchor="middle" fontSize={11.5} fontFamily={FONT}>
          {v}
        </text>
      ))}

      <g clipPath={`url(#${clipId})`}>
        {pieces(p.gray).map((seg, i) => (
          <path key={"g" + i} d={line(seg) ?? ""} fill="none" stroke="#9a9a9a" strokeWidth={0.6} />
        ))}
        {pieces(p.black).map((seg, i) => (
          <path key={"b" + i} d={line(seg) ?? ""} fill="none" stroke="#000" strokeWidth={0.6} />
        ))}
        {p.dots.map((d, i) => (
          <circle key={"r" + i} cx={x(d[1])} cy={y(d[0])} r={2.1} fill="#ff0000" />
        ))}
      </g>

      {/* velocity ticks, top and bottom */}
      {velocityLabels.slice(1).map((v) => (
        <g key={"M" + v}>
          <line x1={x(v)} x2={x(v)} y1={TOP} y2={TOP + 9} stroke="#000" strokeWidth={0.8} />
          <line x1={x(v)} x2={x(v)} y1={BOTTOM} y2={BOTTOM - 9} stroke="#000" strokeWidth={0.8} />
        </g>
      ))}
      {velocityMinor.map((v) => (
        <g key={"m" + v}>
          <line x1={x(v)} x2={x(v)} y1={TOP} y2={TOP + 4.5} stroke="#000" strokeWidth={0.8} />
          <line x1={x(v)} x2={x(v)} y1={BOTTOM} y2={BOTTOM - 4.5} stroke="#000" strokeWidth={0.8} />
        </g>
      ))}

      {/* depth ticks, both sides */}
      {depthLabels.slice(1).map((d) => (
        <g key={"D" + d}>
          <line x1={x0} x2={x0 + 10} y1={y(d)} y2={y(d)} stroke={AXIS_GRAY} strokeWidth={1.2} />
          <line x1={x0 + PANEL_W} x2={x0 + PANEL_W - 9} y1={y(d)} y2={y(d)} stroke={AXIS_GRAY} strokeWidth={1.2} />
        </g>
      ))}
      {minorDepths.map((d) => (
        <g key={"d" + d}>
          <line x1={x0} x2={x0 + 5} y1={y(d)} y2={y(d)} stroke="#000" strokeWidth={0.8} />
          <line x1={x0 + PANEL_W} x2={x0 + PANEL_W - 5} y1={y(d)} y2={y(d)} stroke="#000" strokeWidth={0.8} />
        </g>
      ))}

      {/* frame */}
      <line x1={x0} x2={x0 + PANEL_W} y1={TOP} y2={TOP} stroke={AXIS_GRAY} strokeWidth={1.2} />
      <line x1={x0} x2={x0} y1={TOP} y2={BOTTOM} stroke={AXIS_GRAY} strokeWidth={1.2} />
      <line x1={x0} x2={x0 + PANEL_W} y1={BOTTOM} y2={BOTTOM} stroke="#333" strokeWidth={1.2} />
      <line x1={x0 + PANEL_W} x2={x0 + PANEL_W} y1={TOP} y2={BOTTOM} stroke="#000" strokeWidth={1} />
    </g>
  );
}

export default function App() {
  const y = d3.scaleLinear().domain([0, 340]).range([TOP, BOTTOM]);

  return (
    <svg
      width={WIDTH}
      height={HEIGHT}
      style={{ position: "absolute", left: 0, top: 0, background: "#fff" }}
    >
      {panels.map((_, i) => (
        <Panel key={i} idx={i} y={y} />
      ))}
      {depthLabels.map((d) => (
        <text key={d} x={42} y={y(d) + 4} textAnchor="end" fontSize={11.5} fontFamily={FONT}>
          {d}
        </text>
      ))}
      <text
        transform={`translate(13, ${(TOP + BOTTOM) / 2 - 13}) rotate(-90)`}
        textAnchor="middle"
        fontSize={12.5}
        fontFamily={FONT}
      >
        Depth (mcd)
      </text>
    </svg>
  );
}
